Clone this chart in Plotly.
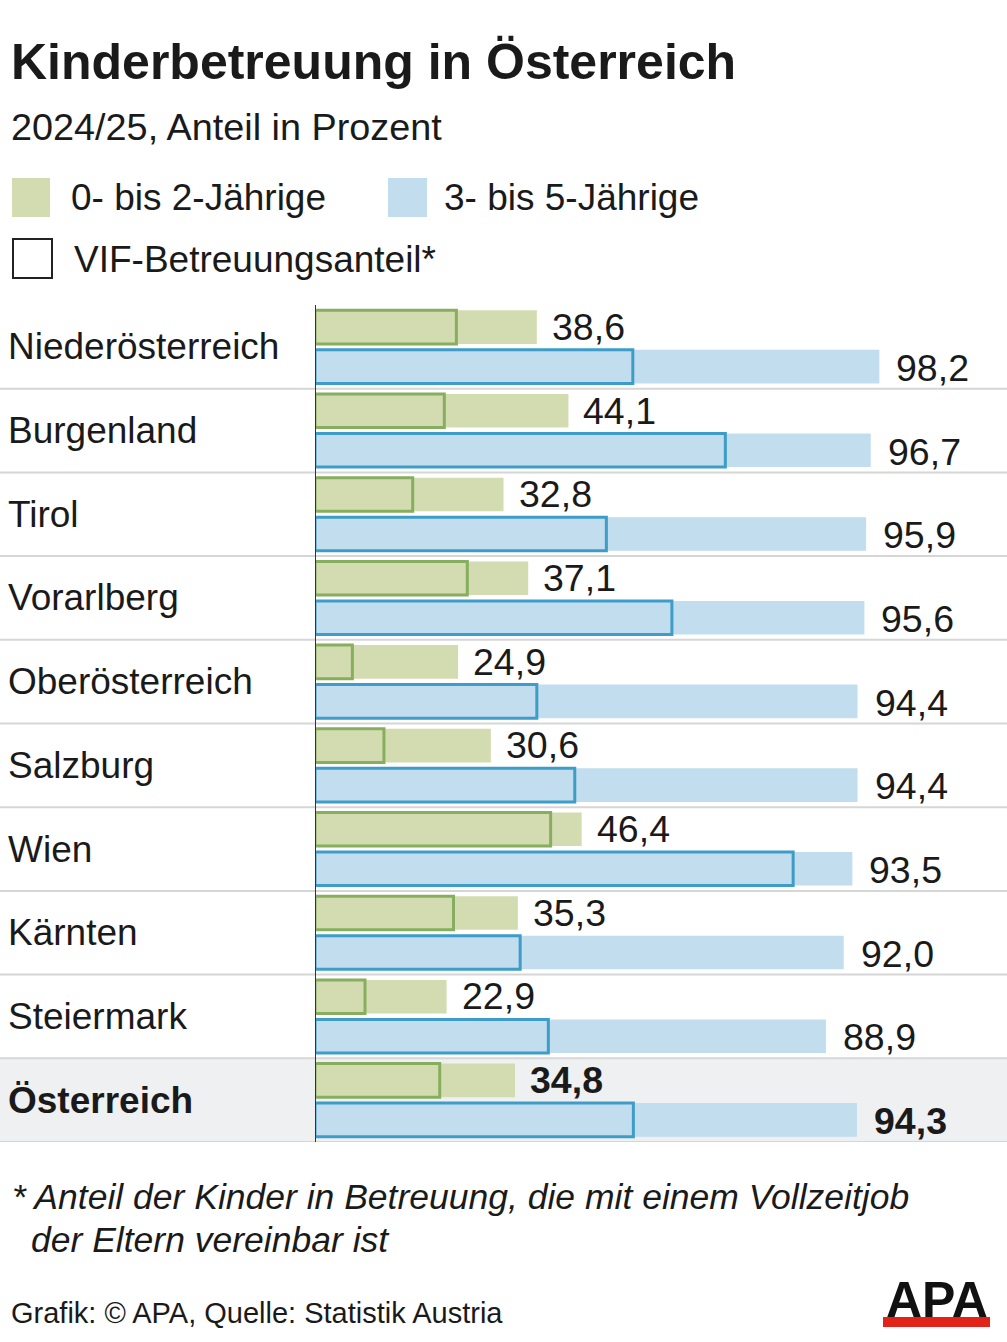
import plotly.graph_objects as go

# ---------------- data ----------------
regions = ["Niederösterreich", "Burgenland", "Tirol", "Vorarlberg", "Oberösterreich",
           "Salzburg", "Wien", "Kärnten", "Steiermark", "Österreich"]
share_0_2 = [38.6, 44.1, 32.8, 37.1, 24.9, 30.6, 46.4, 35.3, 22.9, 34.8]
share_3_5 = [98.2, 96.7, 95.9, 95.6, 94.4, 94.4, 93.5, 92.0, 88.9, 94.3]
vif_0_2 = [24.6, 22.5, 17.0, 26.5, 6.5, 12.0, 41.0, 24.1, 8.7, 21.7]
vif_3_5 = [55.3, 71.4, 50.7, 62.1, 38.6, 45.2, 83.2, 35.7, 40.6, 55.4]
total_label = "Österreich"

title = "Kinderbetreuung in Österreich"
subtitle = "2024/25, Anteil in Prozent"
legend_labels = ["0- bis 2-Jährige", "3- bis 5-Jährige", "VIF-Betreuungsanteil*"]
footnote = ["* Anteil der Kinder in Betreuung, die mit einem Vollzeitjob",
            "der Eltern vereinbar ist"]
source = "Grafik: © APA, Quelle: Statistik Austria"

# ---------------- style ----------------
W, H = 1007, 1342
FONT = "Liberation Sans, Arial, Helvetica, sans-serif"
TXT = "#1a1a1a"
GREEN = "#d3dcb1"
GREEN_LINE = "#86ae5e"
BLUE = "#c1ddee"
BLUE_LINE = "#3e9dc8"
SEP = "#d6d6d6"
TOTAL_BG = "#eef0f2"

x0_px = 315
px_per_unit = 5.747
plot_top, plot_bot = 305, 1142


def py(px):
    return 1 - px / H


def fmt(v):
    return f"{v:.1f}".replace(".", ",")


fig = go.Figure()

common = dict(orientation="h", y=regions, hoverinfo="skip")
fig.add_trace(go.Bar(x=share_0_2, marker=dict(color=GREEN, line=dict(width=0)),
                     offsetgroup="a", **common))
fig.add_trace(go.Bar(x=vif_0_2, marker=dict(color="rgba(0,0,0,0)",
                     line=dict(width=3, color=GREEN_LINE)), offsetgroup="a", **common))
fig.add_trace(go.Bar(x=share_3_5, marker=dict(color=BLUE, line=dict(width=0)),
                     offsetgroup="b", **common))
fig.add_trace(go.Bar(x=vif_3_5, marker=dict(color="rgba(0,0,0,0)",
                     line=dict(width=3, color=BLUE_LINE)), offsetgroup="b", **common))

n = len(regions)
shapes = []
# total row background
ti = regions.index(total_label)
shapes.append(dict(type="rect", xref="paper", yref="y", x0=0, x1=1, y0=ti - 0.5, y1=ti + 0.5,
                   fillcolor=TOTAL_BG, line=dict(width=0), layer="below"))
# separators
for i in range(n):
    shapes.append(dict(type="line", xref="paper", yref="y", x0=0, x1=1, y0=i + 0.5, y1=i + 0.5,
                       line=dict(color=SEP, width=2), layer="below"))
# axis line
shapes.append(dict(type="line", xref="x", yref="y", x0=0, x1=0, y0=-0.5, y1=n - 0.5,
                   line=dict(color="#333333", width=2), layer="above"))

annotations = []
for i, r in enumerate(regions):
    bold = r == total_label
    lab = f"<b>{r}</b>" if bold else r
    annotations.append(dict(xref="paper", yref="y", x=6 / W, y=r, text=lab, showarrow=False,
                            xanchor="left", yanchor="middle",
                            font=dict(size=37, color=TXT, family=FONT)))
    a = fmt(share_0_2[i])
    b = fmt(share_3_5[i])
    if bold:
        a, b = f"<b>{a}</b>", f"<b>{b}</b>"
    annotations.append(dict(xref="x", yref="y", x=share_0_2[i], y=r, text=a, showarrow=False,
                            xanchor="left", yanchor="middle", xshift=13, yshift=20,
                            font=dict(size=37.5, color=TXT, family=FONT)))
    annotations.append(dict(xref="x", yref="y", x=share_3_5[i], y=r, text=b, showarrow=False,
                            xanchor="left", yanchor="middle", xshift=15, yshift=-21,
                            font=dict(size=37.5, color=TXT, family=FONT)))

# titles
annotations.append(dict(xref="paper", yref="paper", x=9 / W, y=py(62), text=f"<b>{title}</b>",
                        showarrow=False, xanchor="left", yanchor="middle",
                        font=dict(size=50, color=TXT, family=FONT)))
annotations.append(dict(xref="paper", yref="paper", x=9 / W, y=py(127), text=subtitle,
                        showarrow=False, xanchor="left", yanchor="middle",
                        font=dict(size=37.8, color=TXT, family=FONT)))
# legend
shapes.append(dict(type="rect", xref="paper", yref="paper", x0=12 / W, x1=50 / W,
                   y0=py(217), y1=py(178), fillcolor=GREEN, line=dict(width=0)))
shapes.append(dict(type="rect", xref="paper", yref="paper", x0=388 / W, x1=427 / W,
                   y0=py(217), y1=py(178), fillcolor=BLUE, line=dict(width=0)))
shapes.append(dict(type="rect", xref="paper", yref="paper", x0=13 / W, x1=52 / W,
                   y0=py(278), y1=py(239), fillcolor="white", line=dict(width=2, color="#222222")))
for x, yy, t in [(69, 197, legend_labels[0]), (442, 197, legend_labels[1]),
                 (72, 259, legend_labels[2])]:
    annotations.append(dict(xref="paper", yref="paper", x=x / W, y=py(yy), text=t,
                            showarrow=False, xanchor="left", yanchor="middle",
                            font=dict(size=37, color=TXT, family=FONT)))
# footnote
annotations.append(dict(xref="paper", yref="paper", x=10 / W, y=py(1197),
                        text=f"<i>{footnote[0]}</i>", showarrow=False, xanchor="left",
                        yanchor="middle", font=dict(size=35.5, color=TXT, family=FONT)))
annotations.append(dict(xref="paper", yref="paper", x=29 / W, y=py(1240),
                        text=f"<i>{footnote[1]}</i>", showarrow=False, xanchor="left",
                        yanchor="middle", font=dict(size=35.5, color=TXT, family=FONT)))
annotations.append(dict(xref="paper", yref="paper", x=9 / W, y=py(1313), text=source,
                        showarrow=False, xanchor="left", yanchor="middle",
                        font=dict(size=29, color=TXT, family=FONT)))
# APA logo
annotations.append(dict(xref="paper", yref="paper", x=937 / W, y=py(1300), text="<b>APA</b>",
                        showarrow=False, xanchor="center", yanchor="middle",
                        font=dict(size=50, color="#111111", family=FONT)))
shapes.append(dict(type="rect", xref="paper", yref="paper", x0=883 / W, x1=990 / W,
                   y0=py(1327), y1=py(1317), fillcolor="#e2231a", line=dict(width=0)))

fig.update_layout(
    width=W, height=H, margin=dict(l=0, r=0, t=0, b=0),
    paper_bgcolor="white", plot_bgcolor="rgba(0,0,0,0)",
    barmode="group", bargap=0.056, bargroupgap=0.15, showlegend=False,
    xaxis=dict(domain=[x0_px / W, 1], range=[0, (W - x0_px) / px_per_unit],
               visible=False, fixedrange=True),
    yaxis=dict(domain=[(H - plot_bot) / H, (H - plot_top) / H], type="category",
               categoryorder="array", categoryarray=regions, range=[n - 0.5, -0.5],
               visible=False, fixedrange=True),
    shapes=shapes, annotations=annotations,
)

fig.write_html("out.html", config={"displayModeBar": False},
               post_script="document.body.style.margin='0';document.body.style.overflow='hidden';")
